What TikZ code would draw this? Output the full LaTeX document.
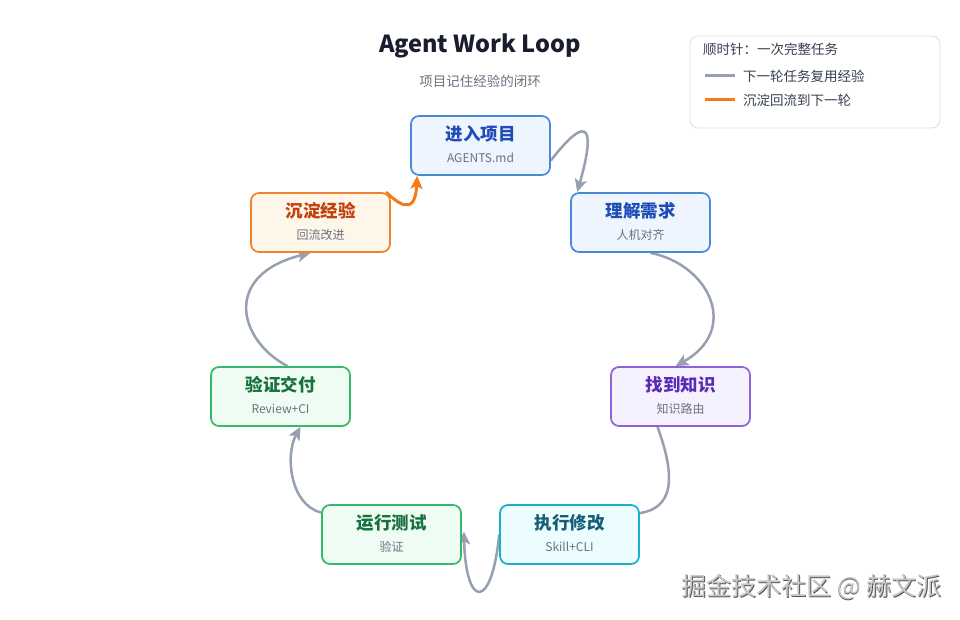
\documentclass[tikz,border=0pt]{standalone}
\usepackage{fontspec}
\setmainfont{Noto Sans CJK SC}
\usetikzlibrary{arrows.meta}
\definecolor{bluB}{HTML}{4A88DA}
\definecolor{bluF}{HTML}{EEF5FF}
\definecolor{bluT}{HTML}{1F4DB6}
\definecolor{purB}{HTML}{9061D8}
\definecolor{purF}{HTML}{F6F1FF}
\definecolor{purT}{HTML}{5B2BB5}
\definecolor{cyaB}{HTML}{1AAFC8}
\definecolor{cyaF}{HTML}{ECFDFF}
\definecolor{cyaT}{HTML}{155E75}
\definecolor{grnB}{HTML}{34B86A}
\definecolor{grnF}{HTML}{EFFCF3}
\definecolor{grnT}{HTML}{17723D}
\definecolor{orgB}{HTML}{EE8230}
\definecolor{orgF}{HTML}{FFF6EA}
\definecolor{orgT}{HTML}{C2410C}
\definecolor{subG}{HTML}{6B7280}
\definecolor{conG}{HTML}{97A0B0}
\definecolor{conO}{HTML}{F27A1A}
\definecolor{ttlC}{HTML}{1A1D2E}
\definecolor{legB}{HTML}{D9DDE3}
\definecolor{legT}{HTML}{374151}
\pgfdeclarelayer{bg}
\pgfdeclarelayer{canvas}
\pgfsetlayers{canvas,bg,main}
\newcommand\stg[8]{%
  \node[stagebox,draw=#4,fill=#5] (#1) at (#2,#3) {};
  \node[ttl,text=#6] (#1t) at ([yshift=11.5pt]#1.center) {#7};
  \node[subt] (#1s) at ([yshift=-12.5pt]#1.center) {#8};}
\begin{document}
\begin{tikzpicture}[x=1pt,y=-1pt,
  stagebox/.style={rounded corners=8pt,line width=1.7pt,minimum width=139pt,minimum height=59pt,inner sep=0pt},
  ttl/.style={font=\fontsize{17.5}{20}\selectfont\bfseries,inner sep=0pt},
  subt/.style={font=\fontsize{12}{14}\selectfont,text=subG,inner sep=0pt},
  conn/.style={draw=conG,line width=2.5pt,-{Stealth[length=13pt,width=12pt,inset=3pt]}},
  connO/.style={draw=conO,line width=3pt,-{Stealth[length=13pt,width=12pt,inset=3pt]}},
  legt/.style={font=\fontsize{13.5}{16}\selectfont,text=legT,anchor=west,inner sep=0pt}]
\useasboundingbox (0,0) rectangle (960,620);
\begin{pgfonlayer}{canvas}
\fill[white] (0,0) rectangle (960,620);
\end{pgfonlayer}

\node[font=\fontsize{23.5}{28}\selectfont\bfseries,text=ttlC] (title) at (480,46) {Agent Work Loop};
\node[font=\fontsize{13.5}{16}\selectfont,text=subG] (subtitle) at (480,81) {项目记住经验的闭环};

\stg{enter}{480.5}{145.5}{bluB}{bluF}{bluT}{进入项目}{AGENTS.md}
\stg{understand}{640.5}{222.5}{bluB}{bluF}{bluT}{理解需求}{人机对齐}
\stg{know}{680.5}{396.5}{purB}{purF}{purT}{找到知识}{知识路由}
\stg{exec}{569.5}{534.5}{cyaB}{cyaF}{cyaT}{执行修改}{Skill+CLI}
\stg{run}{391.5}{534.5}{grnB}{grnF}{grnT}{运行测试}{验证}
\stg{verify}{280.5}{396.5}{grnB}{grnF}{grnT}{验证交付}{Review+CI}
\stg{settle}{320.5}{222.5}{orgB}{orgF}{orgT}{沉淀经验}{回流改进}

\begin{pgfonlayer}{bg}
\draw[conn] ([yshift=-15pt]enter.east) .. controls (590,110) and (595,130) .. ([xshift=7pt]understand.north west);
\draw[conn] ([xshift=10pt]understand.south) .. controls (710,265) and (740,330) .. ([xshift=-5pt]know.north);
\draw[conn] ([xshift=-23pt]know.south) .. controls (675,475) and (680,520) .. ([xshift=-32pt,yshift=-8pt]exec.north east);
\draw[conn] (exec.west) .. controls (492,610) and (466,610) .. ([xshift=2pt,yshift=3pt]run.east);
\draw[conn] ([yshift=22pt]run.west) .. controls (290,505) and (285,455) .. ([xshift=20pt]verify.south);
\draw[conn] ([xshift=7pt]verify.north) .. controls (238,340) and (222,275) .. ([xshift=-10pt]settle.south);
\draw[connO] ([xshift=-5pt]settle.north east) .. controls (395,200) and (415,220) .. ([xshift=7pt]enter.south west);
\end{pgfonlayer}

\node[draw=legB,fill=white,rounded corners=8pt,line width=0.8pt,minimum width=250pt,minimum height=92pt] (legend) at (815,82) {};
\node[legt] (leg0) at (703,49) {顺时针：一次完整任务};
\coordinate (lg1a) at (705,76); \coordinate (lg1b) at (735,76);
\draw[draw=conG,line width=3pt] (lg1a) -- (lg1b);
\node[legt] (leg1) at (743,76) {下一轮任务复用经验};
\coordinate (lg2a) at (705,100); \coordinate (lg2b) at (735,100);
\draw[draw=conO,line width=3pt] (lg2a) -- (lg2b);
\node[legt] (leg2) at (743,100) {沉淀回流到下一轮};

\node[font=\fontsize{25}{30}\selectfont,text=black!65] (wmshadow) at (812.2,588.2) {掘金技术社区 @ 赫文派};
\node[font=\fontsize{25}{30}\selectfont,text=black!22] (wm) at (811.5,587.5) {掘金技术社区 @ 赫文派};
\end{tikzpicture}
\end{document}
